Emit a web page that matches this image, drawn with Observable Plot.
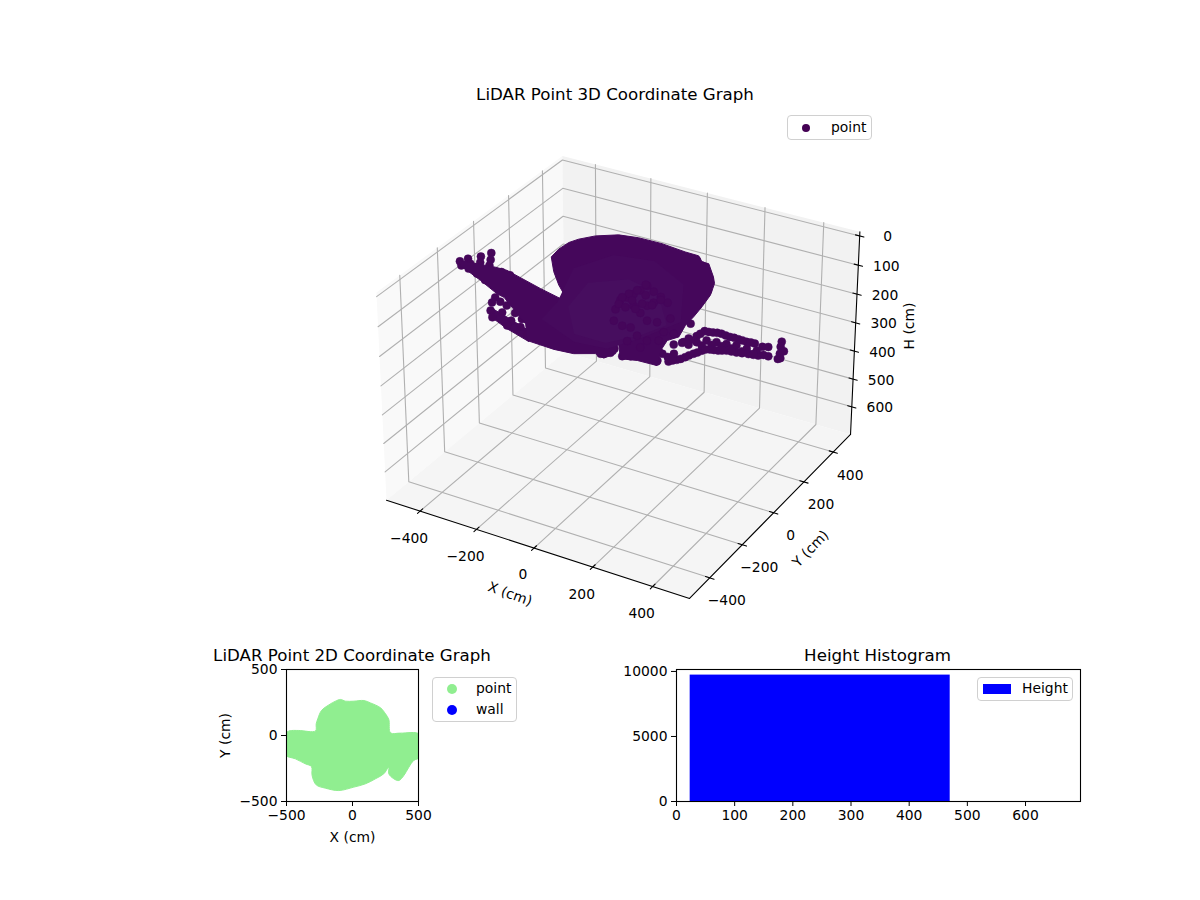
<!DOCTYPE html>
<html>
<head>
<meta charset="utf-8">
<script src="https://cdn.jsdelivr.net/npm/d3@7"></script>
<script src="https://cdn.jsdelivr.net/npm/@observablehq/plot@0.6"></script>
<style>
html,body{margin:0;padding:0;background:#fff;}
#fig{position:relative;width:1200px;height:900px;overflow:hidden;font-family:"DejaVu Sans",sans-serif;color:#000;}
#fig svg{position:absolute;background:transparent;}
.title{position:absolute;font-size:16.67px;line-height:20px;height:20px;white-space:nowrap;transform:translateX(-50%);}
.legend{position:absolute;box-sizing:border-box;border:1px solid #d0d0d0;border-radius:4px;background:rgba(255,255,255,.8);font-size:13.89px;}
.legend span{position:absolute;line-height:18px;white-space:nowrap;}
.legend i{position:absolute;display:block;}
</style>
</head>
<body>
<div id="fig"></div>
<script>
// ---- values ----
const xyTicks = [-400, -200, 0, 200, 400];
const hTicks = [0, 100, 200, 300, 400, 500, 600];
const xyLimits = [-521, 521];
const hLimits = [-14, 701];

// Point cloud outlines (X cm, H cm, read on the plane Y = 0)
const bodyX = [-578,-446,-405,-286,-181,-199,-222,-239,-247,-220,-185,-151,-93,-14,53,132,209,253,265,287,303,307,294,267,240,213,191,152,130,118,50,-8,-16,-25,-66,-96,-172,-242,-337,-342,-418,-442,-501,-574];
const bodyH = [136,124,124,155,178,159,125,84,36,2,-29,-49,-75,-99,-107,-108,-101,-100,-83,-83,-44,-23,19,65,106,142,188,211,252,307,309,320,258,307,334,327,349,354,350,293,221,216,185,152];
const bandX = [-474,-409,-332,-331,-408,-468];
const bandH = [300,329,352,313,288,270];
const sheenX = [-170,-31,107,205,197,61,-54,-170,-285,-228];
const sheenH = [54,-28,-44,8,136,230,298,308,260,186];
const coreX = [-120,20,120,150,60,-60,-170,-190];
const coreH = [90,40,60,160,220,280,280,190];

// Individual scan points (X cm, H cm, read on the plane Y = 0)
const edgeX = [224,251,277,305,333,361,389,416,443,468,487,251,284,317,350,383,417,450,157,185,213,241,268,296,323,351,384,423,455,488,530,527,538,525,527,519,174,175,136,119,107,125,154,202,224,-89,-91,-89,-77,-66,-43,-29,-2,27,61,90,117,-575,-570,-545,-537,-498,-501,-506,-460,-463,-468,-425,-395,-544,-514,-485,-450,-462,-468,-462,-432,-409,-379,-355,-426,-394,-361,-409,-338,248,275,290,286,265,262,224,230,263,291,319,347,375,402,430,268,301,334,367,401,439,472,171,198,226,254,281,309,336,367,402,439,207,229];
const edgeH = [184,168,144,141,137,140,140,141,139,143,138,189,174,170,167,162,164,161,282,268,251,231,213,201,197,189,186,180,176,169,108,126,138,150,164,169,219,250,261,289,277,258,267,205,205,227,257,285,322,319,309,291,309,301,291,289,293,138,151,121,136,101,122,139,79,103,124,135,138,155,164,179,230,251,281,303,240,247,265,279,276,296,309,317,326,-84,-69,-34,6,-71,34,45,132,157,143,138,139,139,140,139,195,184,179,177,178,175,169,274,261,241,223,205,199,193,187,183,178,201,188];
const nearX = [83,60,37,105,129,152,15,-8,-25,-31,-2,27,83,117,60,105,37,83,162,140,174,49,83,123,15,60,78,49,21,-2,-14,129,78,32,9,66,100,43];
const nearH = [45,67,85,59,70,83,103,118,154,195,204,202,163,159,143,96,125,112,134,186,182,224,232,220,252,261,43,69,89,107,133,80,78,108,138,110,106,134];

// 2D footprint (X cm, Y cm)
const footX = [-510,-477,-407,-280,-275,-263,-235,-179,-129,-91,-53,10,86,136,212,250,275,288,363,510,510,464,427,389,351,313,275,275,237,174,98,10,-104,-205,-275,-306,-311,-356,-432,-510];
const footY = [13,35,38,35,88,126,189,232,260,273,260,260,265,247,210,164,121,20,18,8,-164,-189,-240,-303,-341,-328,-290,-240,-290,-328,-366,-391,-417,-399,-374,-303,-235,-215,-177,-146];

// Height histogram
const binLo = [23.5];
const binHi = [470.5];
const binCount = [9720];

// ---- 3D projection (elev 30, azim -60, perspective distance 10) ----
function proj(X, Y, H) {
  const x = X / 521 * 0.59525, y = Y / 521 * 0.59525, z = 0.375 - (H + 14) / 715 * 0.82145;
  const xc = 0.8660254 * x + 0.5 * y;
  const yc = -0.25 * x + 0.4330127 * y + 0.8660254 * z;
  const wq = 0.4330127 * x - 0.75 * y + 0.5 * z;
  const den = 10 - wq;
  return {u: xc / den, v: yc / den};
}
const minus = d => String(d).replace("-", "\u2212");
const [xa, xb] = xyLimits, [ha, hb] = hLimits;

const pane = pts => pts.map(p => proj(...p));
const paneLeft = pane([[xa,xa,ha],[xa,xb,ha],[xa,xb,hb],[xa,xa,hb]]);
const paneBack = pane([[xa,xb,ha],[xb,xb,ha],[xb,xb,hb],[xa,xb,hb]]);
const paneFloor = pane([[xa,xa,hb],[xb,xa,hb],[xb,xb,hb],[xa,xb,hb]]);

const grid = [];
const addPath = (store, k, pts) => pts.forEach(p => store.push({k, ...proj(...p)}));
xyTicks.forEach(t => addPath(grid, "x" + t, [[t,xa,hb],[t,xb,hb],[t,xb,ha]]));
xyTicks.forEach(t => addPath(grid, "y" + t, [[xb,t,hb],[xa,t,hb],[xa,t,ha]]));
hTicks.forEach(t => addPath(grid, "h" + t, [[xa,xa,t],[xa,xb,t],[xb,xb,t]]));

const axisLines = [];
addPath(axisLines, "X", [[xa,xa,hb],[xb,xa,hb]]);
addPath(axisLines, "Y", [[xb,xa,hb],[xb,xb,hb]]);
addPath(axisLines, "H", [[xb,xb,hb],[xb,xb,ha]]);
xyTicks.forEach(t => addPath(axisLines, "tx" + t, [[t,xa-14,hb],[t,xa+14,hb]]));
xyTicks.forEach(t => addPath(axisLines, "ty" + t, [[xb-14,t,hb],[xb+14,t,hb]]));
hTicks.forEach(t => addPath(axisLines, "th" + t, [[xb-14,xb,t],[xb+14,xb,t]]));

const xLabels = xyTicks.map(t => ({t: minus(t), ...proj(t, xa, hb)}));
const yLabels = xyTicks.map(t => ({t: minus(t), ...proj(xb, t, hb)}));
const hLabels = hTicks.map(t => ({t: String(t), ...proj(xb, xb, t)}));
const toRows = (xs, hs) => xs.map((X, i) => proj(X, 0, hs[i]));
const body = toRows(bodyX, bodyH), band = toRows(bandX, bandH), sheen = toRows(sheenX, sheenH), core = toRows(coreX, coreH);
const edge = toRows(edgeX, edgeH), near = toRows(nearX, nearH);

const fig = document.getElementById("fig");
const place = (svg, left, top) => { svg.style.left = left + "px"; svg.style.top = top + "px"; fig.appendChild(svg); };
const font = {fontFamily: "'DejaVu Sans',sans-serif", fontSize: "13.89px", background: "transparent", overflow: "visible", color: "#000"};

// ---- 3D chart ----
const A = 622.3, B = 2916, C = 356.8, D = 2894;
const L = 340, T = 140, W = 600, Ht = 490;
const line = (rows, o) => Plot.line(rows, {x: "u", y: "v", ...o});
const plot3d = Plot.plot({
  width: W, height: Ht, margin: 0, style: font,
  x: {domain: [(L - A) / B, (L + W - A) / B], range: [0, W], axis: null},
  y: {domain: [(C - T) / D, (C - T - Ht) / D], range: [0, Ht], axis: null},
  marks: [
    line(paneLeft, {fill: "#f9f9f9", stroke: "none"}),
    line(paneBack, {fill: "#f2f2f2", stroke: "none"}),
    line(paneFloor, {fill: "#f5f5f5", stroke: "none"}),
    line(grid, {z: "k", stroke: "#b0b0b0", strokeWidth: 1.1}),
    line(axisLines, {z: "k", stroke: "#000", strokeWidth: 1.1}),
    Plot.text(xLabels, {x: "u", y: "v", text: "t", dx: -11, dy: 27}),
    Plot.text(yLabels, {x: "u", y: "v", text: "t", dx: 17, dy: 23}),
    Plot.text(hLabels, {x: "u", y: "v", text: "t", dx: 28, dy: 1}),
    Plot.text([proj(0, xa, hb)], {x: "u", y: "v", text: () => "X (cm)", dx: -24, dy: 46, rotate: 20}),
    Plot.text([proj(xb, 0, hb)], {x: "u", y: "v", text: () => "Y (cm)", dx: 37, dy: 36, rotate: -46}),
    Plot.text([proj(xb, xb, 343)], {x: "u", y: "v", text: () => "H (cm)", dx: 54, dy: -9, rotate: -90}),
    line(band, {fill: "#45075b", stroke: "#45075b", strokeWidth: 1}),
    Plot.dot(edge, {x: "u", y: "v", r: 4, fill: "#450659", stroke: "#46095e", strokeWidth: 0.5}),
    line(body, {fill: "#45075b", stroke: "#45075b", strokeWidth: 1}),
    line(sheen, {fill: "#460a5d", stroke: "none"}),
    line(core, {fill: "#470e5f", stroke: "none"}),
    Plot.dot(near, {x: "u", y: "v", r: 4, fill: "#45065a", stroke: "#44045a", strokeWidth: 0.5})
  ]
});
place(plot3d, L, T);

// ---- 2D chart ----
const foot = footX.map((X, i) => ({X, Y: footY[i]}));
const plot2d = Plot.plot({
  width: 230, height: 191, marginLeft: 86, marginRight: 12, marginTop: 9, marginBottom: 50, style: font,
  x: {domain: [-500, 500]},
  y: {domain: [-500, 500]},
  marks: [
    Plot.line(foot, {x: "X", y: "Y", curve: "catmull-rom-closed", fill: "lightgreen", stroke: "lightgreen", strokeWidth: 1, clip: true}),
    Plot.frame({stroke: "#000", strokeWidth: 1.1}),
    Plot.axisX({ticks: [-500, 0, 500], tickFormat: minus, tickSize: 5, tickPadding: 4, label: "X (cm)", labelAnchor: "center", labelArrow: "none", labelOffset: 40}),
    Plot.axisY({ticks: [-500, 0, 500], tickFormat: minus, tickSize: 5, tickPadding: 4, label: "Y (cm)", labelAnchor: "center", labelArrow: "none", labelOffset: 66})
  ]
});
place(plot2d, 200, 660);

// ---- Histogram ----
const bins = binLo.map((lo, i) => ({lo, hi: binHi[i], count: binCount[i]}));
const plotHist = Plot.plot({
  width: 460, height: 191, marginLeft: 46, marginRight: 10, marginTop: 9, marginBottom: 50, style: font,
  x: {domain: [0, 694.5]},
  y: {domain: [0, 10150]},
  marks: [
    Plot.rectY(bins, {x1: "lo", x2: "hi", y: "count", fill: "#0000ff"}),
    Plot.frame({stroke: "#000", strokeWidth: 1.1}),
    Plot.axisX({ticks: [0, 100, 200, 300, 400, 500, 600], tickFormat: String, tickSize: 5, tickPadding: 4, label: null}),
    Plot.axisY({ticks: [0, 5000, 10000], tickFormat: String, tickSize: 5, tickPadding: 4, label: null})
  ]
});
place(plotHist, 630, 660);

// ---- Titles and legends ----
function title(text, cx, cy) {
  const d = document.createElement("div");
  d.className = "title"; d.textContent = text;
  d.style.left = cx + "px"; d.style.top = (cy - 10) + "px";
  fig.appendChild(d);
}
title("LiDAR Point 3D Coordinate Graph", 615, 95);
title("LiDAR Point 2D Coordinate Graph", 352, 656);
title("Height Histogram", 877.5, 656);

function legend(x, y, w, h, items) {
  const d = document.createElement("div");
  d.className = "legend";
  Object.assign(d.style, {left: x + "px", top: y + "px", width: w + "px", height: h + "px"});
  items.forEach(it => {
    const m = document.createElement("i");
    Object.assign(m.style, {left: it.mx + "px", top: it.my + "px", width: it.mw + "px", height: it.mh + "px", background: it.color, borderRadius: it.round ? "50%" : "0"});
    d.appendChild(m);
    const s = document.createElement("span");
    s.textContent = it.text;
    s.style.left = it.tx + "px"; s.style.top = it.ty + "px";
    d.appendChild(s);
  });
  fig.appendChild(d);
}
legend(787, 115, 85, 25, [{text: "point", color: "#440154", round: true, mx: 14, my: 8, mw: 8, mh: 8, tx: 43, ty: 2}]);
legend(432, 677, 85, 45, [
  {text: "point", color: "lightgreen", round: true, mx: 14, my: 6, mw: 10, mh: 10, tx: 43, ty: 1},
  {text: "wall", color: "#0000ff", round: true, mx: 14, my: 27, mw: 10, mh: 10, tx: 43, ty: 22}
]);
legend(977, 677, 96, 24, [{text: "Height", color: "#0000ff", round: false, mx: 5, my: 6, mw: 28, mh: 10, tx: 44, ty: 1}]);
</script>
</body>
</html>
